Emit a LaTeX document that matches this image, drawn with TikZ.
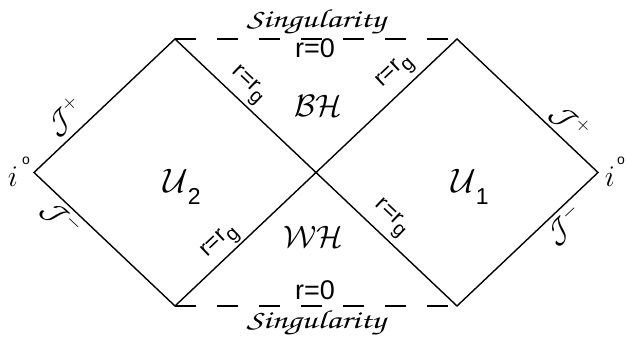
\RequirePackage{fix-cm}
\documentclass[tikz,border=0pt]{standalone}
\usepackage[T1]{fontenc}
\usepackage{fontspec}
\setsansfont{Liberation Sans}
\newcommand\chanc{\usefont{T1}{pzc}{mb}{it}}
\newcommand\rrg{r=r\raisebox{-0.28em}{\fontsize{20}{20}\selectfont g}}
\begin{document}
\begin{tikzpicture}[x=1pt,y=-1pt,
  edge/.style={draw=black,line width=1.4pt,line join=miter},
  sing/.style={draw=black,line width=1.6pt,dash pattern=on 21pt off 21pt},
  lab/.style={font=\sffamily\fontsize{23}{23}\selectfont,inner sep=0pt},
  zero/.style={font=\sffamily\fontsize{27}{27}\selectfont,inner sep=0pt,anchor=base},
  singlab/.style={font=\chanc\fontsize{26}{26}\selectfont,inner sep=0pt,anchor=base},
  region/.style={font=\fontsize{31}{31}\selectfont,inner sep=0pt},
  scri/.style={font=\fontsize{29}{29}\selectfont,inner sep=0pt},
  inf/.style={font=\fontsize{30}{30}\selectfont,inner sep=0pt}]
\useasboundingbox (0,0) rectangle (626,344);
\coordinate (L) at (34,172.5);
\coordinate (TL) at (175,39);
\coordinate (BL) at (175,306);
\coordinate (TR) at (457,39);
\coordinate (BR) at (457,306);
\coordinate (R) at (598,172.5);
\draw[edge] (L) -- (TL) -- (BR) -- (R) -- (TR) -- (BL) -- cycle;
\draw[sing] (TL) -- (TR);
\draw[sing] (BL) -- (BR);
% singularity labels
\node[singlab] (sTop) at (316,28) {\scalebox{1.35}[1]{Singularity}};
\node[singlab] (sBot) at (316,328) {\scalebox{1.35}[1]{Singularity}};
\node[zero] (zTop) at (315,58) {r=0};
\node[zero] (zBot) at (315,300) {r=0};
% horizons
\node[region] (bh) at (318,106) {$\mathcal{BH}$};
\node[region] (wh) at (313,237) {$\mathcal{WH}$};
% regions
\node[region,font=\fontsize{34}{34}\selectfont,anchor=base west] (u2) at (163,193) {$\mathcal{U}$\raisebox{-0.33em}{\sffamily\fontsize{23}{23}\selectfont 2}};
\node[region,font=\fontsize{34}{34}\selectfont,anchor=base west] (u1) at (451,193) {$\mathcal{U}$\raisebox{-0.33em}{\sffamily\fontsize{23}{23}\selectfont 1}};
% spatial infinity
\node[inf] (iL) at (13,177) {$i$};
\node[font=\sffamily\fontsize{14}{14}\selectfont,inner sep=0pt] (oL) at (26,161) {o};
\node[inf] (iR) at (610,177) {$i$};
\node[font=\sffamily\fontsize{14}{14}\selectfont,inner sep=0pt] (oR) at (621,161) {o};
% null infinity
\node[scri,rotate=43.4] (jpL) at (65,117) {$\mathcal{J}^{\scriptstyle +}$};
\node[scri,rotate=-43.4] (jmL) at (61,219) {$\mathcal{J}^{\scriptstyle -}$};
\node[scri,rotate=-43.4] (jpR) at (570,122) {$\mathcal{J}^{\scriptstyle +}$};
\node[scri,rotate=43.4] (jmR) at (565,225) {$\mathcal{J}^{\scriptstyle -}$};
% horizons r=rg
\node[lab,rotate=-43.4] (hUL) at (247,86) {\rrg};
\node[lab,rotate=43.4] (hUR) at (396,73) {\rrg};
\node[lab,rotate=43.4] (hLL) at (221,243) {\rrg};
\node[lab,rotate=-43.4] (hLR) at (390,219) {\rrg};
\end{tikzpicture}
\end{document}
